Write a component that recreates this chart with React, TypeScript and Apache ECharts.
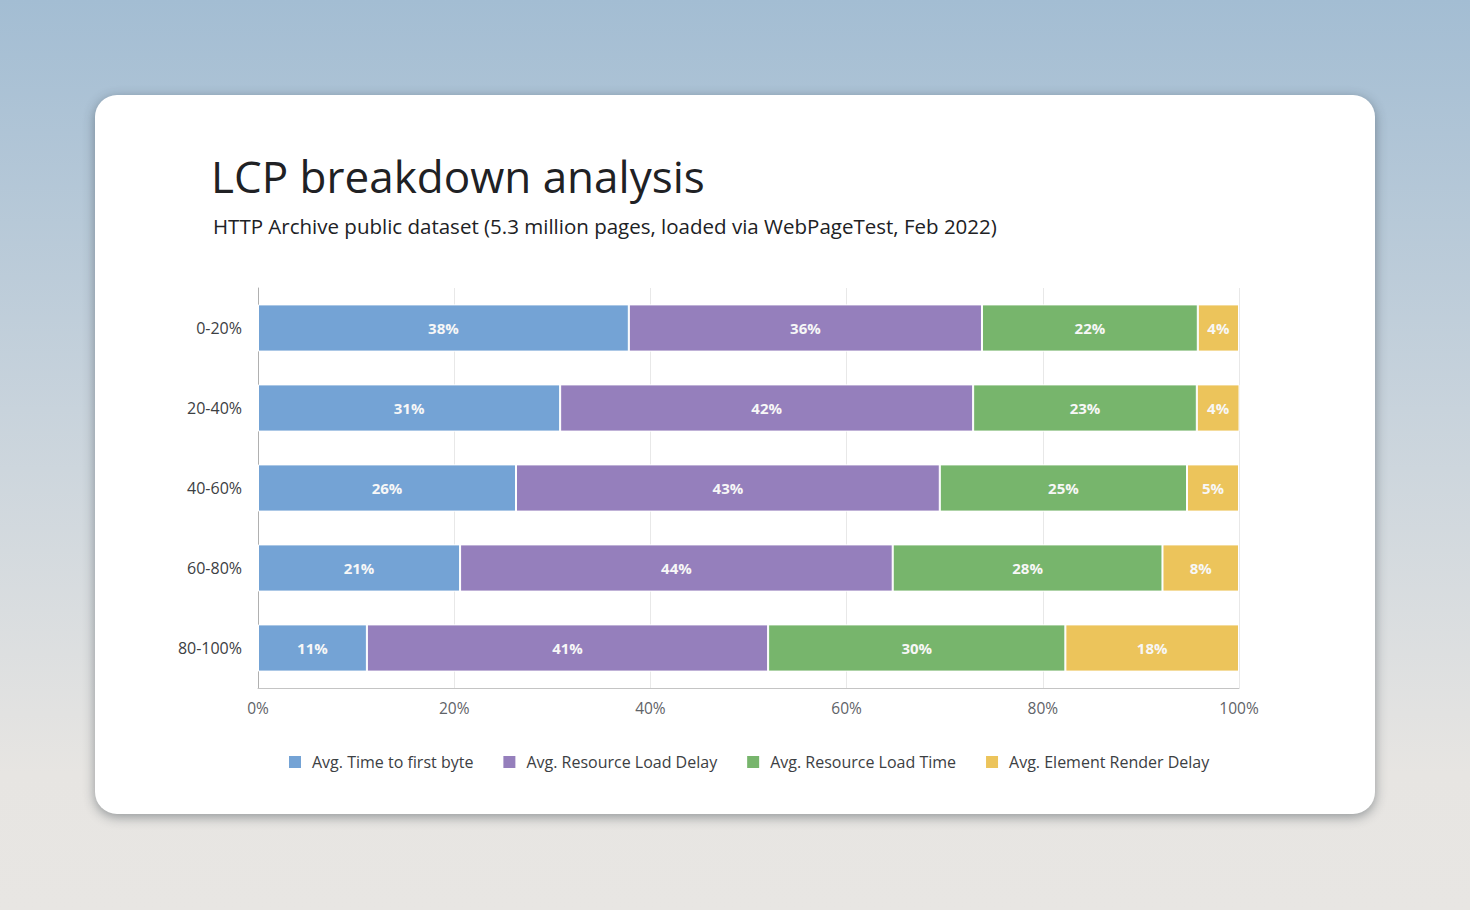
import React, { useEffect, useRef } from "react";
import * as echarts from "echarts";

const categories = ["0-20%", "20-40%", "40-60%", "60-80%", "80-100%"];
const seriesNames = [
  "Avg. Time to first byte",
  "Avg. Resource Load Delay",
  "Avg. Resource Load Time",
  "Avg. Element Render Delay",
];
const ttfb = [37.8, 30.8, 26.3, 20.6, 11.1];
const loadDelay = [36.0, 42.1, 43.2, 44.1, 40.9];
const loadTime = [22.0, 22.8, 25.2, 27.5, 30.3];
const renderDelay = [4.2, 4.4, 5.3, 7.8, 17.7];
const colors = ["#74a3d5", "#957fbc", "#77b56c", "#ecc45b"];
const xTicks = [0, 20, 40, 60, 80, 100];

const FONT = "'Open Sans', 'Noto Sans', sans-serif";

export default function App() {
  const ref = useRef<HTMLDivElement>(null);
  useEffect(() => {
    if (!ref.current) return;
    const chart = echarts.init(ref.current, null, { renderer: "svg" });
    const all = [ttfb, loadDelay, loadTime, renderDelay];
    chart.setOption({
      animation: false,
      backgroundColor: "transparent",
      textStyle: { fontFamily: FONT },
      title: [
        {
          text: "LCP breakdown analysis",
          left: 206,
          top: 149,
          textStyle: { fontFamily: FONT, fontSize: 44, fontWeight: 400, color: "#202124" },
        },
        {
          text: "HTTP Archive public dataset (5.3 million pages, loaded via WebPageTest, Feb 2022)",
          left: 208,
          top: 210,
          textStyle: { fontFamily: FONT, fontSize: 20.5, fontWeight: 400, color: "#202124" },
        },
      ],
      legend: {
        top: 749,
        left: 282,
        itemWidth: 14,
        itemHeight: 14,
        itemGap: 28,
        icon: "rect",
        textStyle: { fontFamily: FONT, fontSize: 16, color: "#3c4043", padding: [0, 0, 0, 5] },
        data: seriesNames,
      },
      grid: { left: 258, right: 231, top: 288, bottom: 222, containLabel: false },
      xAxis: {
        type: "value",
        min: xTicks[0],
        max: xTicks[xTicks.length - 1],
        interval: 20,
        axisLabel: {
          formatter: "{value}%",
          fontFamily: FONT,
          fontSize: 15.5,
          color: "#5f6368",
          margin: 12,
        },
        axisLine: { show: true, lineStyle: { color: "#c4c4c4", width: 1 } },
        axisTick: { show: false },
        splitLine: { show: true, lineStyle: { color: "#e8e8e8", width: 1 } },
      },
      yAxis: {
        type: "category",
        inverse: true,
        data: categories,
        axisLabel: { fontFamily: FONT, fontSize: 16, color: "#3c4043", margin: 16 },
        axisLine: { show: true, lineStyle: { color: "#b0b0b0", width: 1 } },
        axisTick: { show: false },
        splitLine: { show: false },
      },
      series: seriesNames.map((name, i) => ({
        name,
        type: "bar",
        stack: "total",
        barWidth: "59%",
        data: all[i],
        itemStyle: { color: colors[i], borderColor: "#ffffff", borderWidth: 1 },
        label: {
          show: true,
          position: "inside",
          formatter: (p: any) => Math.round(p.value) + "%",
          color: "#f7f7f7",
          fontFamily: FONT,
          fontWeight: 700,
          fontSize: 15,
        },
      })),
    });
    return () => chart.dispose();
  }, []);

  return (
    <div
      style={{
        position: "fixed",
        left: 0,
        top: 0,
        width: 1470,
        height: 910,
        background: "linear-gradient(180deg, #a3bdd3 0%, #c8d3dc 45%, #e7e5e2 85%, #e8e6e3 100%)",
        overflow: "hidden",
      }}
    >
      <div
        style={{
          position: "absolute",
          left: 95,
          top: 95,
          width: 1280,
          height: 719,
          background: "#ffffff",
          borderRadius: 22,
          boxShadow: "0 3px 12px rgba(40,50,60,0.45)",
        }}
      />
      <div ref={ref} style={{ position: "absolute", left: 0, top: 0, width: 1470, height: 910 }} />
    </div>
  );
}
